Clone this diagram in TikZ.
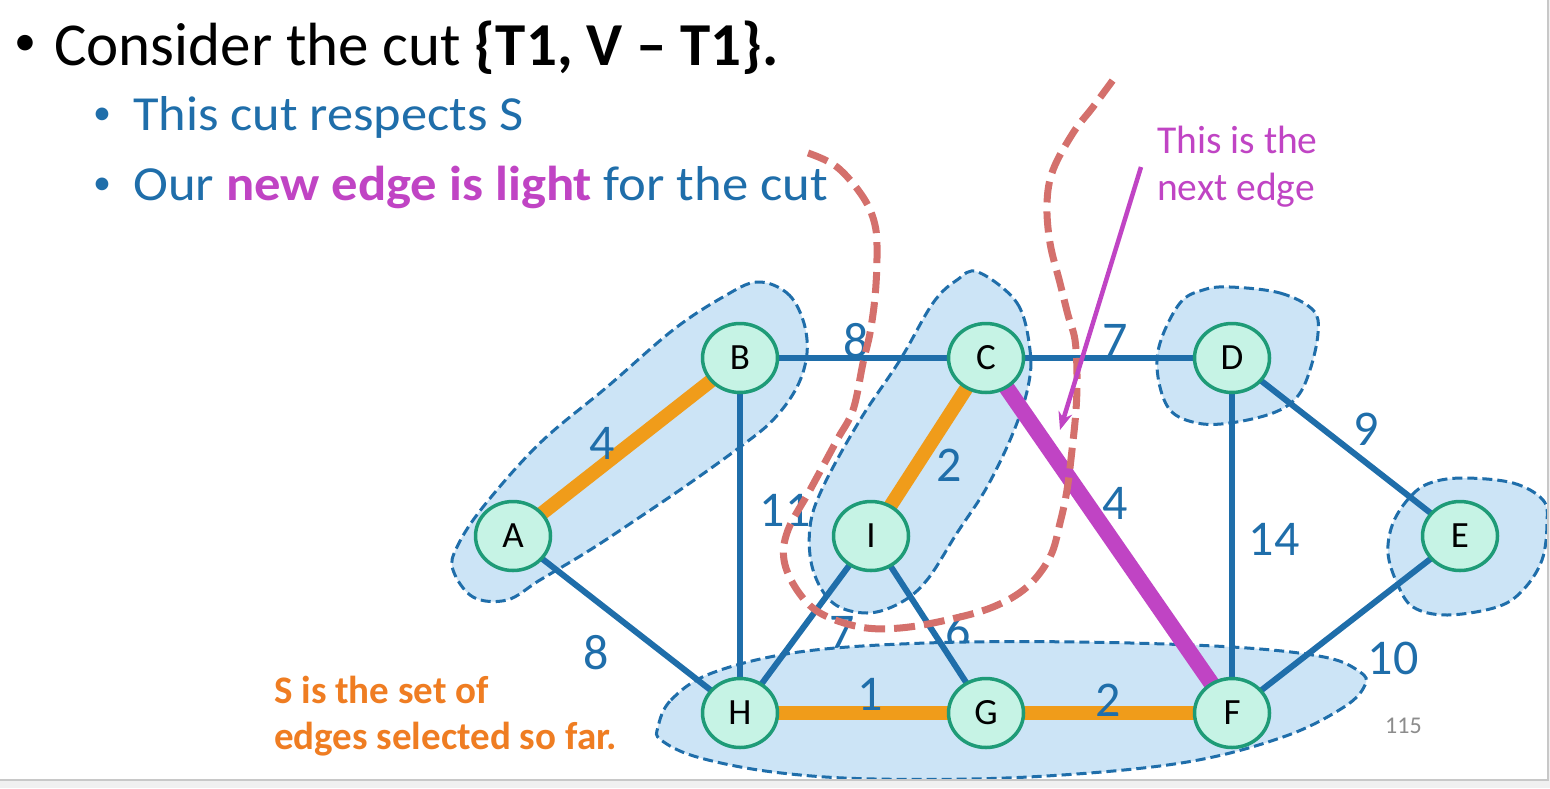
\documentclass[tikz,border=0pt]{standalone}
\usepackage{fontspec}
\setmainfont{Carlito}
\usetikzlibrary{shapes.geometric,arrows.meta}
\definecolor{eblue}{HTML}{1F6EAA}
\definecolor{eorange}{HTML}{F09C1A}
\definecolor{torange}{HTML}{EF7D22}
\definecolor{epurple}{HTML}{C044C4}
\definecolor{nfill}{HTML}{C6F3E5}
\definecolor{ngreen}{HTML}{1E9B77}
\definecolor{blobfill}{HTML}{CCE4F6}
\definecolor{cutred}{HTML}{D4706C}
\definecolor{pgray}{HTML}{8C8C8C}
\definecolor{barfill}{HTML}{F0F0F0}
\definecolor{barline}{HTML}{C8C8C8}
\pgfdeclarelayer{lab0}
\pgfdeclarelayer{blobs}
\pgfdeclarelayer{edges}
\pgfsetlayers{lab0,blobs,edges,main}
\begin{document}
\begin{tikzpicture}[x=1pt,y=-1pt,
  vert/.style={ellipse, draw=ngreen, fill=nfill, line width=3.5pt, minimum width=75pt, minimum height=69pt, inner sep=0pt, font=\fontsize{37}{40}\selectfont},
  elab/.style={text=eblue, inner sep=0pt, font=\fontsize{50}{56}\selectfont},
  bedge/.style={draw=eblue, line width=6pt},
  oedge/.style={draw=eorange, line width=14pt},
  pedge/.style={draw=epurple, line width=16pt},
  blob/.style={draw=eblue, fill=blobfill, line width=3pt, dash pattern=on 10pt off 5pt},
  cutline/.style={draw=cutred, line width=7pt, dash pattern=on 21pt off 9pt},
  parrow/.style={draw=epurple, line width=4.5pt, -{Stealth[length=18pt,width=14pt]}},
  ttl/.style={anchor=base west, inner sep=0pt, font=\fontsize{61}{70}\selectfont},
  sub/.style={anchor=base west, inner sep=0pt, text=eblue, font=\fontsize{49}{56}\selectfont},
  bul/.style={anchor=center, inner sep=0pt},
  note/.style={anchor=base west, inner sep=0pt, text=epurple, font=\fontsize{39.5}{46}\selectfont},
  snote/.style={anchor=base west, inner sep=0pt, text=torange, font=\fontsize{39}{46}\selectfont\bfseries}
]
\useasboundingbox (0,0) rectangle (1550,788);
\begin{pgfonlayer}{lab0}
\fill[white] (0,0) rectangle (1550,788);
\node[elab] (lIH) at (842,632) {7};
\node[elab] (lIG) at (958,631) {6};
\end{pgfonlayer}

% title text
\node[bul, font=\fontsize{44}{48}\selectfont] (b0) at (25,45) {•};
\node[ttl] (t0) at (54,65) {Consider the cut \textbf{\{T1, V – T1\}.}};
\node[bul, text=eblue, font=\fontsize{36}{40}\selectfont] (b1) at (102,116) {•};
\node[sub] (t1) at (133,130) {\scalebox{1.07}[1]{This cut respects S}};
\node[bul, text=eblue, font=\fontsize{36}{40}\selectfont] (b2) at (102,186) {•};
\node[sub] (t2) at (133,200) {\scalebox{1.075}[1]{Our \textcolor{epurple}{\bfseries new edge is light} for the cut}};

% blobs
\begin{pgfonlayer}{blobs}
\draw[blob] plot[smooth cycle, tension=0.6] coordinates {(757,282) (787,293) (803,320) (807,353) (797,387) (773,420) (740,447) (690,483) (640,517) (590,550) (540,580) (507,600) (473,597) (453,570) (457,547) (483,507) (540,443) (607,387) (673,330) (723,297)};
\draw[blob] plot[smooth cycle, tension=0.6] coordinates {(978,272) (1017,303) (1030,350) (1028,387) (1013,433) (987,487) (957,533) (927,580) (900,603) (867,613) (833,603) (813,570) (810,527) (823,487) (860,420) (900,360) (933,303) (957,280)};
\draw[blob] plot[smooth cycle, tension=0.6] coordinates {(1230,287) (1280,293) (1313,310) (1318,333) (1310,370) (1297,397) (1273,413) (1230,423) (1197,423) (1170,410) (1158,377) (1160,343) (1180,303) (1203,290)};
\draw[blob] plot[smooth cycle, tension=0.6] coordinates {(1463,478) (1513,483) (1543,500) (1547,523) (1542,560) (1523,590) (1497,607) (1447,615) (1413,607) (1397,583) (1388,553) (1393,523) (1410,497) (1430,483)};
\draw[blob] plot[smooth cycle, tension=0.6] coordinates {(658,727) (671,700) (712,673) (799,652) (926,643) (1079,642) (1232,647) (1324,657) (1360,672) (1365,685) (1344,707) (1283,737) (1181,763) (1028,777) (875,779) (773,772) (697,757) (661,740)};
\end{pgfonlayer}

% vertices
\node[vert] (A) at (513,536) {A};
\node[vert] (B) at (740,358) {B};
\node[vert] (C) at (986,358) {C};
\node[vert] (D) at (1232,358) {D};
\node[vert] (E) at (1460,536) {E};
\node[vert] (I) at (871,536) {I};
\node[vert] (H) at (740,713) {H};
\node[vert] (G) at (986,713) {G};
\node[vert] (F) at (1232,713) {F};

% edges
\begin{pgfonlayer}{edges}
\draw[bedge] (B.center) -- (C.center);
\draw[bedge] (C.center) -- (D.center);
\draw[bedge] (D.center) -- (E.center);
\draw[bedge] (D.center) -- (F.center);
\draw[bedge] (E.center) -- (F.center);
\draw[bedge] (A.center) -- (H.center);
\draw[bedge] (B.center) -- (H.center);
\draw[bedge] (I.center) -- (H.center);
\draw[bedge] (I.center) -- (G.center);
\draw[oedge] (A.center) -- (B.center);
\draw[oedge] (C.center) -- (I.center);
\draw[oedge] (H.center) -- (G.center);
\draw[oedge] (G.center) -- (F.center);
\draw[pedge] (C.center) -- (F.center);
\end{pgfonlayer}

% edge labels
\node[elab] (lAB) at (602,443) {4};
\node[elab] (lBC) at (856,341) {8};
\node[elab] (lCD) at (1115,340) {7};
\node[elab] (lDE) at (1366,429) {9};
\node[elab] (lDF) at (1274,539) {14};
\node[elab] (lEF) at (1393,658) {10};
\node[elab] (lAH) at (596,653) {8};
\node[elab] (lBH) at (785,510) {11};
\node[elab] (lCI) at (949,465) {2};
\node[elab] (lCF) at (1115,503) {4};
\node[elab] (lHG) at (870,694) {1};
\node[elab] (lGF) at (1108,700) {2};

% cut
\draw[cutline] plot[smooth, tension=0.6] coordinates {(808,153) (837,167) (863,197) (875,225) (877,257) (875,297) (870,333) (863,363) (853,410) (837,440) (810,490) (788,530) (784,560) (797,590) (820,613) (860,627) (900,628) (947,620) (993,607) (1027,587) (1050,557) (1060,523) (1067,490) (1072,450) (1076,410) (1077,375) (1075,340) (1068,315) (1060,283) (1050,243) (1047,203) (1053,170) (1073,133) (1093,107) (1113,80)};

% annotation
\node[note] (n1) at (1157,153) {This is the};
\node[note] (n2) at (1157,200) {next edge};
\coordinate (arrS) at (1141,167);
\coordinate (arrE) at (1060,430);
\draw[parrow] (arrS) -- (arrE);

\node[snote] (s1) at (274,703) {S is the set of};
\node[snote] (s2) at (274,749) {edges selected so far.};

\node[anchor=base west, inner sep=0pt, text=pgray, font=\fontsize{24}{27}\selectfont] (pg) at (1385,733) {115};

% slide border
\fill[barfill] (0,780) rectangle (1550,788);
\fill[barfill] (1548,0) rectangle (1550,788);
\draw[barline, line width=1.5pt] (0,780) -- (1548,780) -- (1548,0);
\end{tikzpicture}
\end{document}
